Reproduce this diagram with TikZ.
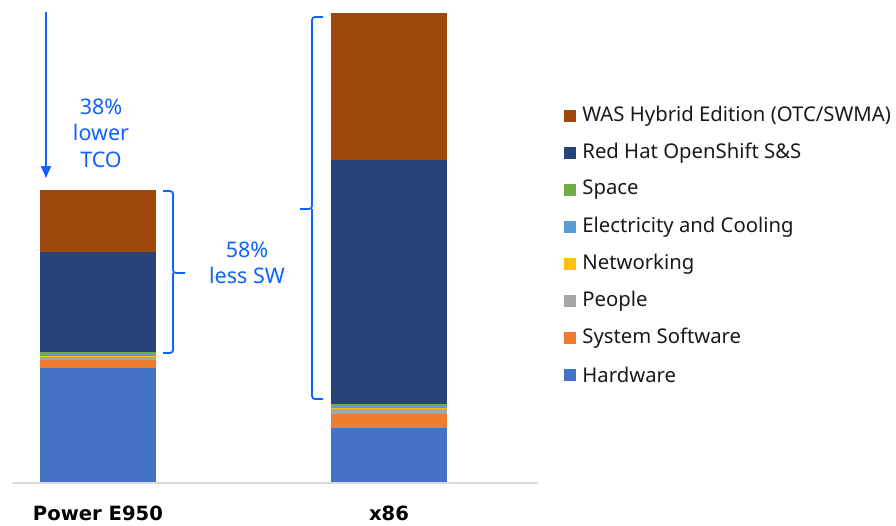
\documentclass[tikz,border=0pt]{standalone}
\usepackage{fontspec}
\setmainfont{Noto Sans}
\newfontfamily\lblfont{DejaVu Sans}
\usetikzlibrary{positioning}
\usetikzlibrary{arrows.meta}
\definecolor{hwblue}{HTML}{4472C4}
\definecolor{sworange}{HTML}{ED7D31}
\definecolor{pplgray}{HTML}{A5A5A5}
\definecolor{netgold}{HTML}{FFC000}
\definecolor{elecblue}{HTML}{5B9BD5}
\definecolor{spcgreen}{HTML}{70AD47}
\definecolor{rhnavy}{HTML}{264478}
\definecolor{wasbrown}{HTML}{9E480E}
\definecolor{ibmblue}{HTML}{0F62FE}
\definecolor{axgray}{HTML}{D9D9D9}
\tikzset{
    legsq/.style = {rectangle, minimum size=12pt, inner sep=0pt},
    legtxt/.style = {anchor=west, inner sep=0pt, text=black!90, font=\fontsize{20.3}{22}\selectfont},
    notetxt/.style = {align=center, text=ibmblue, inner sep=0pt, font=\fontsize{21.5}{26.5}\selectfont},
    barlbl/.style = {inner sep=0pt, text=black, font=\lblfont\bfseries\fontsize{19.6}{22}\selectfont},
    edgeblue/.style = {-, line width=1.8pt, ibmblue, rounded corners=3pt},
    arrowblue/.style = {-{Triangle[length=12pt,width=10pt]}, line width=1.8pt, ibmblue},
    axisline/.style = {-, line width=1.5pt, axgray}
}
\begin{document}
\begin{tikzpicture}[x=1pt,y=-1pt]
\useasboundingbox (0,0) rectangle (896,525);
%
% Power E950 bar
\fill[wasbrown] (40,190) rectangle (156,252);
\fill[rhnavy] (40,252) rectangle (156,352);
\fill[spcgreen] (40,352) rectangle (156,353.5);
\fill[elecblue] (40,353.5) rectangle (156,356);
\fill[netgold] (40,356) rectangle (156,357);
\fill[pplgray] (40,357) rectangle (156,359.5);
\fill[sworange] (40,359.5) rectangle (156,368);
\fill[hwblue] (40,368) rectangle (156,483);
%
% x86 bar
\fill[wasbrown] (331,13) rectangle (447,160);
\fill[rhnavy] (331,160) rectangle (447,404);
\fill[spcgreen] (331,404) rectangle (447,405.5);
\fill[elecblue] (331,405.5) rectangle (447,407.5);
\fill[netgold] (331,407.5) rectangle (447,408.5);
\fill[pplgray] (331,408.5) rectangle (447,414);
\fill[sworange] (331,414) rectangle (447,428);
\fill[hwblue] (331,428) rectangle (447,483);
%
\coordinate (axl) at (12,483);
\coordinate (axr) at (538,483);
\draw[axisline] (axl) -- (axr);
%
\node[barlbl] at (98,513) (pwr) {Power E950};
\node[barlbl] at (389,513) (x86) {x86};
%
% annotations
\coordinate (arrtop) at (46,12);
\coordinate (arrtip) at (46,178);
\draw[arrowblue] (arrtop) -- (arrtip);
\node[notetxt] at (101,133) (tco) {38\%\\lower\\TCO};
%
\coordinate (lbt) at (163,191);
\coordinate (lbb) at (163,353);
\coordinate (lbv) at (173,273);
\coordinate (lbm) at (185,273);
\draw[edgeblue] (lbt) -| (lbv) -- (lbm);
\draw[edgeblue] (lbb) -| (lbv);
\node[notetxt] at (247,263) (sw) {58\%\\less SW};
%
\coordinate (rbt) at (323,17);
\coordinate (rbb) at (323,399);
\coordinate (rbv) at (312,209);
\coordinate (rbm) at (300,209);
\draw[edgeblue] (rbt) -| (rbv) -- (rbm);
\draw[edgeblue] (rbb) -| (rbv);
%
% legend
\node[legsq, fill=wasbrown] at (570,116) (k1) {};
\node[legtxt, right=6pt of k1] (t1) {WAS Hybrid Edition (OTC/SWMA)};
\node[legsq, fill=rhnavy] at (570,153) (k2) {};
\node[legtxt, right=6pt of k2] (t2) {Red Hat OpenShift S\&S};
\node[legsq, fill=spcgreen] at (570,190) (k3) {};
\node[legtxt, right=6pt of k3] (t3) {Space};
\node[legsq, fill=elecblue] at (570,227) (k4) {};
\node[legtxt, right=6pt of k4] (t4) {Electricity and Cooling};
\node[legsq, fill=netgold] at (570,264) (k5) {};
\node[legtxt, right=6pt of k5] (t5) {Networking};
\node[legsq, fill=pplgray] at (570,301) (k6) {};
\node[legtxt, right=6pt of k6] (t6) {People};
\node[legsq, fill=sworange] at (570,338) (k7) {};
\node[legtxt, right=6pt of k7] (t7) {System Software};
\node[legsq, fill=hwblue] at (570,375) (k8) {};
\node[legtxt, right=6pt of k8] (t8) {Hardware};
\end{tikzpicture}
\end{document}
